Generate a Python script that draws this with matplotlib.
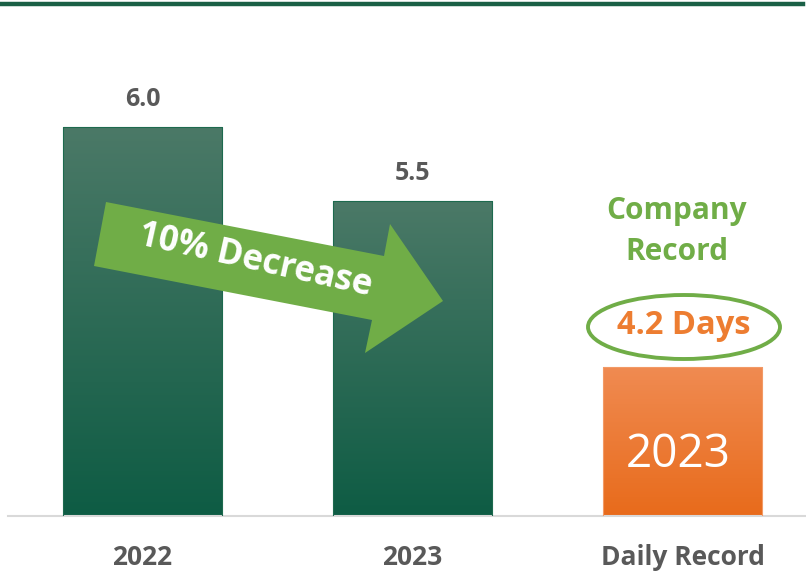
import numpy as np
import matplotlib
matplotlib.use("Agg")
import matplotlib.pyplot as plt
from matplotlib.colors import LinearSegmentedColormap
from matplotlib.patches import Polygon, Ellipse
from matplotlib.lines import Line2D

# data
categories = ["2022", "2023", "Daily Record"]
values = [6.0, 5.5, 4.38]          # last bar height as drawn (record bar)
value_labels = ["6.0", "5.5", None]
record_label = "4.2 Days"
record_title = ["Company", "Record"]
record_year = "2023"
arrow_text = "10% Decrease"

W, H = 806, 575
plt.rcParams['font.family'] = ['Open Sans', 'DejaVu Sans']

fig = plt.figure(figsize=(W / 100, H / 100), dpi=100)
ax = fig.add_axes([8 / W, (H - 516) / H, (806 - 8) / W, (516 - 30) / H])

def px(x, y):
    return (x / W, 1 - y / H)

green_cm = LinearSegmentedColormap.from_list("g", ["#0e5c44", "#4b7967"])
orange_cm = LinearSegmentedColormap.from_list("o", ["#e86b1b", "#f08b52"])

ymin = 3.372
ytop = ymin + (516 - 30) / 148.0
x = np.arange(len(categories))
bars = ax.bar(x, values, width=0.59, bottom=0, color="none", zorder=2)

grad = np.linspace(0, 1, 256).reshape(-1, 1)
for i, b in enumerate(bars):
    bx, bw, bh = b.get_x(), b.get_width(), b.get_height()
    cm = orange_cm if i == 2 else green_cm
    im = ax.imshow(grad, extent=[bx, bx + bw, ymin, bh], origin="lower",
                   aspect="auto", cmap=cm, zorder=2)
    im.set_clip_path(b)
    edge = "#f29a66" if i == 2 else "#1d6a4e"
    ax.plot([bx, bx, bx + bw, bx + bw], [ymin, bh, bh, ymin], color=edge, lw=0.8, zorder=3)

ax.set_xlim(-0.498, 2.457)
ax.set_ylim(ymin, ytop)
for s in ["top", "right", "left"]:
    ax.spines[s].set_visible(False)
ax.spines["bottom"].set_color("#d9d9d9")
ax.spines["bottom"].set_linewidth(1.5)
ax.set_yticks([])
ax.set_xticks(x)
ax.set_xticklabels(categories, fontsize=19, fontweight="bold", color="#595959")
ax.tick_params(axis="x", length=0, pad=20)

for i, lab in enumerate(value_labels):
    if lab:
        ax.annotate(lab, (x[i], values[i]), xytext=(0, 20), textcoords="offset points",
                    ha="center", va="center", fontsize=18, fontweight="bold", color="#595959")

# record annotations
fig.text(*px(678, 455), record_year, ha="center", va="center",
         fontsize=33, color="white", zorder=4)
fig.text(*px(677, 211), record_title[0], ha="center", va="center", fontsize=21.5,
         fontweight="bold", color="#70ad47")
fig.text(*px(677, 252), record_title[1], ha="center", va="center", fontsize=21.5,
         fontweight="bold", color="#70ad47")
fig.text(*px(684, 326), record_label, ha="center", va="center", fontsize=23.5,
         fontweight="bold", color="#ed7d31")
fig.add_artist(Ellipse(px(684, 327), 192 / W, 64 / H, transform=fig.transFigure,
                       fill=False, ec="#70ad47", lw=2.8))

# arrow
arrow_pts = [(106, 202), (384, 256), (390, 224), (443, 301), (365, 353), (372, 320), (94, 266)]
fig.add_artist(Polygon([px(a, b) for a, b in arrow_pts], closed=True,
                       transform=fig.transFigure, fc="#70ad47", ec="none", zorder=5))
fig.text(*px(255, 261), arrow_text, ha="center", va="center", rotation=-12.5,
         fontsize=25, fontweight="bold", color="white", zorder=6)

# top rule
fig.add_artist(Line2D([0, 803 / W], [1 - 4 / H, 1 - 4 / H], transform=fig.transFigure,
                      color="#1a6046", lw=3.2))

fig.savefig("out.png", dpi=100)
